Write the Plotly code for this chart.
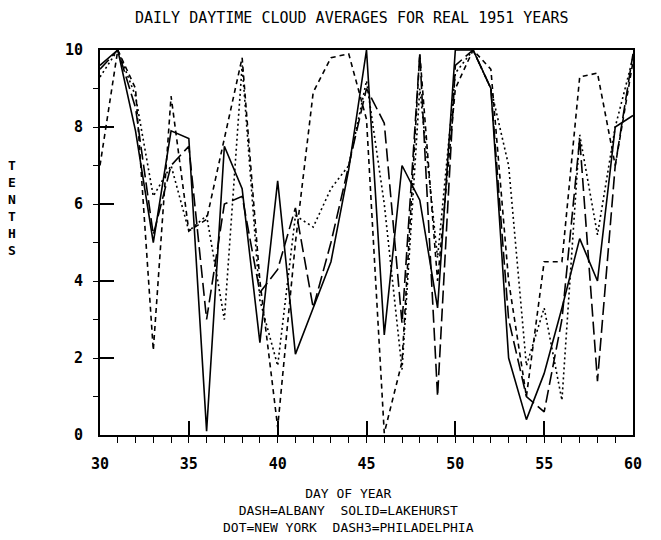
import plotly.graph_objects as go

days = list(range(30, 61))

albany = [7.0, 10.0, 9.0, 2.2, 8.8, 5.3, 5.6, 7.7, 9.8, 4.0, 0.2, 5.0, 8.9, 9.8, 9.9, 8.2,
          0.05, 1.9, 9.9, 4.0, 9.0, 10.0, 9.5, 4.0, 1.0, 4.5, 4.5, 9.3, 9.4, 7.0, 9.7]
lakehurst = [9.6, 10.0, 7.9, 5.0, 7.9, 7.7, 0.1, 7.5, 6.4, 2.4, 6.6, 2.1, 3.3, 4.5, 6.9, 10.0,
             2.6, 7.0, 6.1, 3.3, 10.0, 10.0, 9.0, 2.0, 0.4, 1.6, 3.3, 5.1, 4.0, 8.0, 8.3]
new_york = [9.3, 10.0, 8.8, 6.2, 7.0, 5.3, 5.7, 3.0, 9.6, 3.5, 1.8, 5.7, 5.4, 6.4, 7.0, 9.2,
            6.0, 1.7, 9.0, 4.6, 9.4, 10.0, 9.0, 7.0, 1.8, 3.3, 0.9, 7.8, 5.2, 8.0, 9.8]
philadelphia = [9.5, 10.0, 8.5, 5.2, 7.0, 7.5, 3.0, 6.0, 6.2, 3.7, 4.3, 5.9, 3.3, 5.0, 7.0, 9.0,
                8.1, 2.9, 9.9, 1.0, 9.6, 10.0, 9.0, 3.0, 1.0, 0.6, 3.0, 7.7, 1.4, 7.0, 9.9]

x_ticks = [30, 35, 40, 45, 50, 55, 60]
y_ticks = [0, 2, 4, 6, 8, 10]

title_text = "DAILY DAYTIME CLOUD AVERAGES FOR REAL 1951 YEARS"
y_title = "TENTHS"
x_title_lines = ["DAY OF YEAR", "DASH=ALBANY  SOLID=LAKEHURST", "DOT=NEW YORK  DASH3=PHILADELPHIA"]

FONT = "DejaVu Sans Mono"

fig = go.Figure()
series = [
    ("ALBANY", albany, "5px,4px"),
    ("LAKEHURST", lakehurst, "solid"),
    ("NEW YORK", new_york, "2px,3px"),
    ("PHILADELPHIA", philadelphia, "13px,5px"),
]
for name, vals, dash in series:
    fig.add_trace(go.Scatter(x=days, y=vals, mode="lines", name=name,
                             line=dict(color="black", width=1.6, dash=dash),
                             cliponaxis=False))

# page is offset by the 8px body margin
OFF = 8
W, H = 661 - OFF, 540 - OFF
L, R, T, B = 100 - OFF, 28, 50 - OFF, 105
pw, ph = W - L - R, H - T - B

def px_to_paper(px, py):
    fx, fy = px - OFF, py - OFF
    return (fx - L) / pw, (H - B - fy) / ph

annotations = []
tx, ty = px_to_paper(351, 18)
annotations.append(dict(text=title_text, x=tx, y=ty, xref="paper", yref="paper",
                        xanchor="center", yanchor="middle", showarrow=False,
                        font=dict(family=FONT, size=15, color="black")))
ax, ay = px_to_paper(12, 208)
annotations.append(dict(text="<br>".join(y_title), x=ax, y=ay, xref="paper", yref="paper",
                        xanchor="center", yanchor="middle", showarrow=False,
                        font=dict(family=FONT, size=13, color="black", weight="bold")))
ax, ay = px_to_paper(348, 510)
annotations.append(dict(text="<br>".join(x_title_lines), x=ax, y=ay, xref="paper", yref="paper",
                        xanchor="center", yanchor="middle", showarrow=False, align="center",
                        font=dict(family=FONT, size=13, color="black")))

fig.update_layout(
    width=W, height=H,
    margin=dict(l=L, r=R, t=T, b=B),
    paper_bgcolor="white", plot_bgcolor="white",
    showlegend=False,
    annotations=annotations,
    xaxis=dict(range=[30, 60], tickvals=x_ticks, ticktext=[str(v) for v in x_ticks],
               ticks="inside", ticklen=14, tickwidth=1.5, tickcolor="black",
               minor=dict(dtick=1, ticks="outside", ticklen=6, tickwidth=1.2, tickcolor="black"),
               showgrid=False, zeroline=False, showline=True, linecolor="black", linewidth=2,
               mirror=True, ticklabelstandoff=14,
               tickfont=dict(family=FONT, size=15, color="black", weight="bold")),
    yaxis=dict(range=[0, 10], tickvals=y_ticks, ticktext=[str(v) for v in y_ticks],
               ticks="inside", ticklen=14, tickwidth=1.5, tickcolor="black",
               minor=dict(dtick=1, ticks="outside", ticklen=5, tickwidth=1.2, tickcolor="black"),
               showgrid=False, zeroline=False, showline=True, linecolor="black", linewidth=2,
               mirror=True, ticklabelstandoff=12,
               tickfont=dict(family=FONT, size=15, color="black", weight="bold")),
)

fig.write_html("out.html")
